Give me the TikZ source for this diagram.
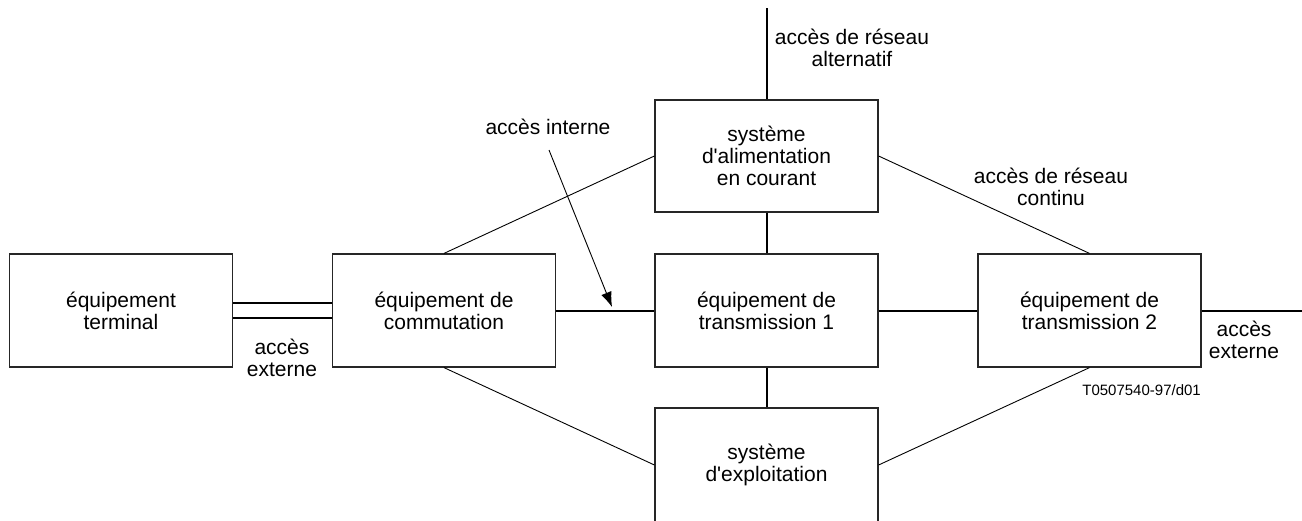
\documentclass[tikz,border=0pt]{standalone}
\usepackage{fontspec}
\setmainfont{Liberation Sans}
\usetikzlibrary{arrows.meta}
\begin{document}
\begin{tikzpicture}[x=1pt,y=-1pt,
  box/.style={draw=black!85, line width=1.2pt, minimum width=223pt, minimum height=113pt, inner sep=0pt, align=center, font=\fontsize{21}{22}\selectfont},
  lbl/.style={align=center, inner sep=0pt, font=\fontsize{21}{22}\selectfont},
  heavy/.style={line width=2pt},
  light/.style={line width=0.9pt},
]
\useasboundingbox (0,0) rectangle (1302,520);
\node[box] (term) at (121,310.5) {équipement\\terminal};
\node[box] (comm) at (444,310.5) {équipement de\\commutation};
\node[box] (tr1) at (766.5,310.5) {équipement de\\transmission 1};
\node[box] (tr2) at (1089.5,310.5) {équipement de\\transmission 2};
\node[box, minimum height=112pt] (alim) at (766.5,156) {système\\d\textquotesingle alimentation\\en courant};
\node[box, minimum height=114pt] (expl) at (766.5,465) {système\\d\textquotesingle exploitation};

\coordinate (alt) at (766.5,8);
\coordinate (extR) at (1302,310.5);
\coordinate (intstart) at (549,150);
\coordinate (inttip) at (612,307);

\draw[light] (comm.north) -- (alim.west);
\draw[light] (alim.east) -- (tr2.north);
\draw[light] (comm.south) -- (expl.west);
\draw[light] (expl.east) -- (tr2.south);
\draw[heavy] (alim.north) -- (alt);
\draw[heavy] (alim.south) -- (tr1.north);
\draw[heavy] (tr1.south) -- (expl.north);
\draw[heavy] (comm.east) -- (tr1.west);
\draw[heavy] (tr1.east) -- (tr2.west);
\draw[heavy] (tr2.east) -- (extR);
\draw[heavy] ([yshift=7.5pt]term.east) -- ([yshift=7.5pt]comm.west);
\draw[heavy] ([yshift=-7.5pt]term.east) -- ([yshift=-7.5pt]comm.west);
\draw[light, -{Latex[length=15pt,width=11pt]}] (intstart) -- (inttip);

\node[lbl] (altlbl) at (852,48) {accès de réseau\\alternatif};
\node[lbl] (contlbl) at (1051,187) {accès de réseau\\continu};
\node[lbl] (intlbl) at (548,127) {accès interne};
\node[lbl] (extL) at (282,358) {accès\\externe};
\node[lbl] (extRl) at (1244,340) {accès\\externe};
\node[anchor=east, inner sep=0pt, font=\fontsize{15}{17}\selectfont] (ref) at (1201,390) {T0507540-97/d01};
\end{tikzpicture}
\end{document}
